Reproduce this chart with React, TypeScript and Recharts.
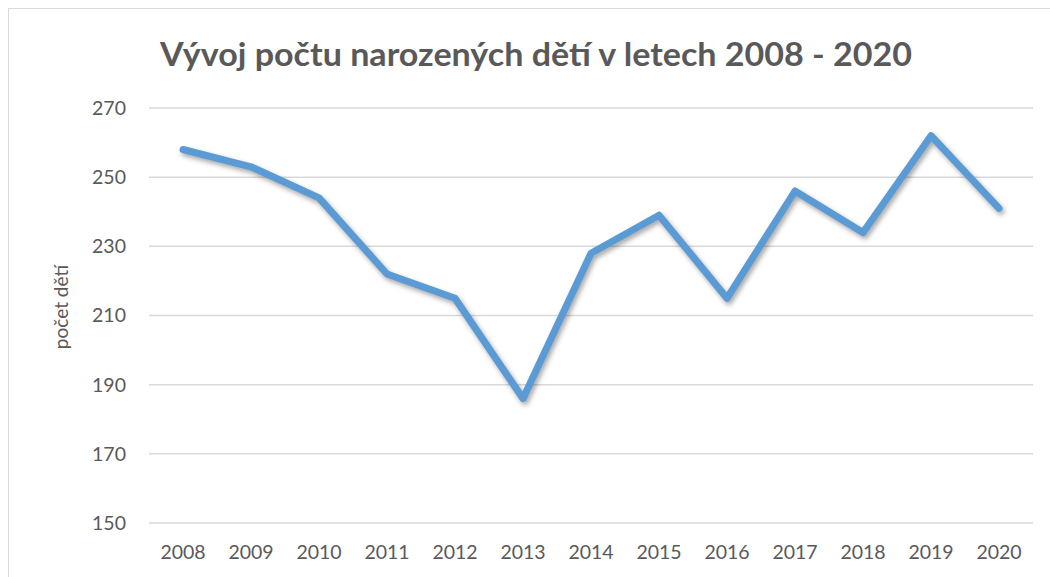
import React from "react";
import { LineChart, Line, XAxis, YAxis, CartesianGrid } from "recharts";

const years = ["2008", "2009", "2010", "2011", "2012", "2013", "2014", "2015", "2016", "2017", "2018", "2019", "2020"];
const births = [258, 253, 244, 222, 215, 186, 228, 239, 215, 246, 234, 262, 241];
const yTicks = [150, 170, 190, 210, 230, 250, 270];
const title = "Vývoj počtu narozených dětí v letech 2008 - 2020";
const yLabel = "počet dětí";

const data = years.map((y, i) => ({ year: y, value: births[i] }));

const FONT = "Lato, 'Open Sans', sans-serif";
const TEXT = "#595959";

export default function App() {
  return (
    <div style={{ position: "fixed", left: 0, top: 0, width: 1050, height: 577, overflow: "hidden", background: "#fff" }}>
      <style>{`.shadow-line path { filter: drop-shadow(2px 3px 2.5px rgba(0,0,0,0.35)); }`}</style>
      <div
        style={{
          position: "absolute",
          left: 8,
          top: 8,
          width: 1100,
          height: 700,
          borderLeft: "1.5px solid #d9d9d9",
          borderTop: "1.5px solid #d9d9d9",
        }}
      />
      <div style={{ position: "absolute", left: 0, top: 0 }}>
        <LineChart width={1050} height={577} data={data} margin={{ top: 108, right: 17, bottom: 24, left: 89 }}>
          <CartesianGrid horizontal vertical={false} stroke="#d9d9d9" strokeWidth={1.5} />
          <XAxis
            dataKey="year"
            height={30}
            padding={{ left: 34, right: 34 }}
            axisLine={false}
            tickLine={false}
            tickSize={0}
            tickMargin={22}
            tick={{ fill: TEXT, fontSize: 19.5, fontFamily: FONT }}
            interval={0}
          />
          <YAxis
            width={60}
            domain={[150, 270]}
            ticks={yTicks}
            axisLine={false}
            tickLine={false}
            tickSize={0}
            tickMargin={23}
            tick={{ fill: TEXT, fontSize: 19.5, fontFamily: FONT }}
          />
          <Line
            className="shadow-line"
            type="linear"
            dataKey="value"
            stroke="#5b9bd5"
            strokeWidth={7}
            strokeLinejoin="round"
            strokeLinecap="round"
            dot={false}
            activeDot={false}
            isAnimationActive={false}
          />
        </LineChart>
      </div>
      <svg style={{ position: "absolute", left: 0, top: 0 }} width={1050} height={577}>
        <text
          x={536}
          y={66}
          textAnchor="middle"
          fontFamily={FONT}
          fontWeight={700}
          fontSize={32.5}
          fill={TEXT}
          textLength={752}
          lengthAdjust="spacingAndGlyphs"
        >
          {title}
        </text>
        <text
          x={0}
          y={0}
          transform="translate(68, 307) rotate(-90)"
          textAnchor="middle"
          fontFamily={FONT}
          fontSize={19}
          fill={TEXT}
        >
          {yLabel}
        </text>
      </svg>
    </div>
  );
}
